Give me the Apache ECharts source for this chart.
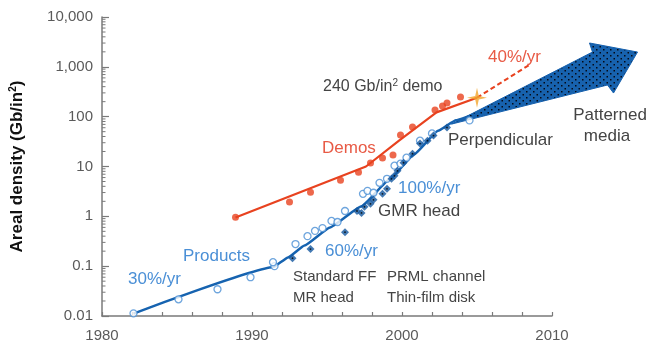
<!DOCTYPE html>
<html>
<head>
<meta charset="utf-8">
<script src="https://cdn.jsdelivr.net/npm/echarts@6/dist/echarts.min.js"></script>
<style>
  html, body { margin: 0; padding: 0; background: #fff; }
  #chart { width: 652px; height: 345px; }
</style>
</head>
<body>
<div id="chart"></div>
<script>
// Axis ranges and tick values
const yearTicks = [1980, 1990, 2000, 2010];
const densityTicks = [0.01, 0.1, 1, 10, 100, 1000, 10000];

// Fitted trend through shipped products (year, Gb/in²)
const productTrend = [
  [1982.1, 0.0112], [1991.4, 0.095], [1992.4, 0.15], [1993.5, 0.26],
  [1995.2, 0.6], [1997.3, 1.6], [1999.2, 5.6], [2000.8, 17.4],
  [2002.4, 52], [2003.6, 85], [2005.0, 118]
];

// Fitted trend through laboratory demos
const demoTrend = [
  [1988.9, 0.95], [1997.6, 10], [1999.8, 33], [2002.3, 122], [2005.0, 240]
];

// Projected demo growth (40%/yr)
const demoProjection = [[2005.0, 240], [2008.5, 1100]];

// 240 Gb/in² demonstration
const demo240 = [[2005.0, 240]];

// Laboratory demos
const demoPoints = [
  [1988.9, 0.96], [1992.5, 1.93], [1993.9, 3.06], [1995.9, 5.3],
  [1997.1, 7.7], [1997.9, 11.7], [1998.7, 14.8], [1999.4, 17],
  [1999.9, 42.8], [2000.7, 61.8], [2002.2, 136], [2002.7, 163],
  [2003.0, 187], [2003.9, 248]
];

// Products (open markers)
const productPoints = [
  [1982.1, 0.0113], [1985.1, 0.0216], [1987.7, 0.0344], [1989.9, 0.060],
  [1991.5, 0.10], [1991.4, 0.12], [1992.9, 0.278], [1993.7, 0.40],
  [1994.2, 0.51], [1994.7, 0.58], [1995.3, 0.81], [1995.7, 0.77],
  [1996.2, 1.28], [1997.4, 2.83], [1997.7, 3.25], [1998.1, 2.97],
  [1998.5, 4.7], [1999.0, 5.67], [1999.5, 10.4], [1999.9, 11.4],
  [2000.3, 15], [2001.2, 33], [2002.0, 46], [2004.5, 84]
];

// Products (filled markers)
const filledPoints = [
  [1992.7, 0.145], [1993.9, 0.22], [1996.2, 0.48], [1997.0, 1.28],
  [1997.3, 1.17], [1997.5, 1.55], [1997.9, 1.78], [1998.1, 2.14],
  [1998.7, 2.83], [1999.0, 3.56], [1999.3, 5.67], [1999.5, 6.5],
  [1999.7, 8.2], [2000.1, 11.9], [2000.7, 18.1], [2001.2, 28.8],
  [2001.7, 33], [2002.1, 41.8], [2003.0, 60.5]
];

// Patterned-media projection arrow outline (year, Gb/in²)
const arrowOutline = [
  [2003.3, 71], [2012.7, 1980], [2012.5, 3010], [2015.7, 1980],
  [2014.1, 298], [2013.7, 432]
];

const BLUE_LINE = '#1663b0';
const BLUE_TEXT = '#4a8fd6';
const RED = '#e8421f';
const RED_TEXT = '#e85a45';
const GREY_TEXT = '#444';
const FONT = '"Liberation Sans", Arial, sans-serif';

// stippled fill for the arrow
const tile = document.createElement('canvas');
tile.width = 7; tile.height = 6;
const tg = tile.getContext('2d');
tg.fillStyle = '#1762ae';
tg.fillRect(0, 0, 7, 6);
tg.fillStyle = '#050a18';
tg.fillRect(1, 1, 1.5, 1.5);
tg.fillRect(4.5, 4, 1.5, 1.5);

const chart = echarts.init(document.getElementById('chart'), null, { renderer: 'canvas' });

function fmtDensity(v) {
  const n = Number(v.toPrecision(3));
  return n.toLocaleString('en-US', { maximumFractionDigits: 2 });
}

function label(text, x, y, color, size, align) {
  return {
    type: 'text', x: x, y: y, z: 20,
    style: {
      text: text, fill: color, font: size + 'px ' + FONT,
      textAlign: align || 'left', textVerticalAlign: 'middle'
    }
  };
}

const option = {
  animation: false,
  grid: { left: 102, right: 100, top: 17, bottom: 29 },
  xAxis: {
    type: 'value', min: yearTicks[0], max: yearTicks[yearTicks.length - 1], interval: 10,
    axisLine: { show: true, lineStyle: { color: '#7a7a7a', width: 1.5 } },
    axisTick: { show: true, inside: true, length: 4, lineStyle: { color: '#7a7a7a', width: 1.2 } },
    minorTick: { show: true, splitNumber: 5, length: 4, lineStyle: { color: '#7a7a7a', width: 1.2 } },
    splitLine: { show: false },
    axisLabel: { color: '#5a5a5a', fontSize: 15, fontFamily: FONT, margin: 12, formatter: v => String(v) }
  },
  yAxis: {
    type: 'log', logBase: 10, min: densityTicks[0], max: densityTicks[densityTicks.length - 1],
    name: 'Areal density (Gb/in{s|2})',
    nameLocation: 'middle', nameRotate: 90, nameGap: 76,
    nameTextStyle: {
      fontSize: 17, fontWeight: 'bold', color: '#111', fontFamily: FONT,
      rich: { s: { fontSize: 10, fontWeight: 'bold', color: '#111', fontFamily: FONT, padding: [0, 0, 8, 0] } }
    },
    axisLine: { show: true, lineStyle: { color: '#7a7a7a', width: 1.5 } },
    axisTick: { show: true, inside: true, length: 7, lineStyle: { color: '#7a7a7a', width: 1.2 } },
    splitLine: { show: false },
    axisLabel: { color: '#5a5a5a', fontSize: 15, fontFamily: FONT, margin: 9, formatter: fmtDensity }
  },
  graphic: [
    label('30%/yr', 128, 279, BLUE_TEXT, 17),
    label('Products', 183, 256, BLUE_TEXT, 17),
    label('60%/yr', 325, 251, BLUE_TEXT, 17),
    label('100%/yr', 398, 188, BLUE_TEXT, 17),
    label('GMR head', 378, 211, GREY_TEXT, 17),
    label('Standard FF', 293, 277, GREY_TEXT, 15),
    label('MR head', 293, 298, GREY_TEXT, 15),
    label('PRML channel', 387, 277, GREY_TEXT, 15),
    label('Thin-film disk', 387, 298, GREY_TEXT, 15),
    label('Demos', 322, 148, RED_TEXT, 17),
    {
      type: 'text', x: 323, y: 87, z: 20,
      style: {
        text: '240 Gb/in{s|2} demo', fill: GREY_TEXT, font: '16px ' + FONT,
        textVerticalAlign: 'middle',
        rich: { s: { fontSize: 10, fontFamily: FONT, fill: GREY_TEXT, padding: [0, 0, 8, 0] } }
      }
    },
    label('40%/yr', 488, 57, RED_TEXT, 17),
    label('Perpendicular', 448, 140, GREY_TEXT, 17),
    label('Patterned', 610, 115, GREY_TEXT, 17, 'center'),
    label('media', 607, 136, GREY_TEXT, 17, 'center')
  ],
  series: [
    {
      // log-spaced minor ticks on the density axis
      type: 'custom', silent: true, z: 1,
      data: densityTicks.slice(0, -1).map(v => [yearTicks[0], v]),
      renderItem: function (params, api) {
        const base = api.value(1);
        const children = [];
        for (let m = 2; m <= 9; m++) {
          const p = api.coord([api.value(0), base * m]);
          children.push({
            type: 'line',
            shape: { x1: p[0], y1: p[1], x2: p[0] + 3.5, y2: p[1] },
            style: { stroke: '#7a7a7a', lineWidth: 1 }
          });
        }
        return { type: 'group', children: children };
      }
    },
    {
      type: 'line', data: productTrend, smooth: 0.12, smoothMonotone: 'x',
      symbol: 'none', z: 3,
      lineStyle: { color: BLUE_LINE, width: 2.5 }
    },
    {
      type: 'line', data: demoTrend, smooth: false,
      symbol: 'none', z: 3,
      lineStyle: { color: RED, width: 2.2 }
    },
    {
      type: 'line', data: demoProjection, symbol: 'none', z: 3,
      lineStyle: { color: RED, width: 2, type: [5, 3] }
    },
    {
      type: 'custom', z: 4, clip: false,
      data: [arrowOutline[0]],
      renderItem: function (params, api) {
        return {
          type: 'polygon',
          shape: { points: arrowOutline.map(p => api.coord(p)) },
          style: { fill: { image: tile, repeat: 'repeat' }, stroke: '#1660ad', lineWidth: 1 }
        };
      }
    },
    {
      type: 'scatter', data: productPoints, symbol: 'circle', symbolSize: 7, z: 5,
      itemStyle: { color: '#fff', borderColor: '#4a8fd4', borderWidth: 1.3 }
    },
    {
      type: 'scatter', data: filledPoints, symbol: 'diamond', symbolSize: 8, z: 6,
      itemStyle: { color: '#14579f' }
    },
    {
      type: 'scatter', data: filledPoints, symbol: 'circle', symbolSize: 1.8, z: 7,
      itemStyle: { color: '#000' }
    },
    {
      type: 'scatter', data: demoPoints, symbol: 'circle', symbolSize: 7, z: 6,
      itemStyle: { color: RED }
    },
    {
      type: 'scatter', data: demo240, z: 8,
      symbol: 'path://M10,0 L11.8,8.2 L20,10 L11.8,11.8 L10,20 L8.2,11.8 L0,10 L8.2,8.2 Z',
      symbolSize: 20,
      itemStyle: { color: '#f2a52c' }
    }
  ]
};

chart.setOption(option);
</script>
</body>
</html>
